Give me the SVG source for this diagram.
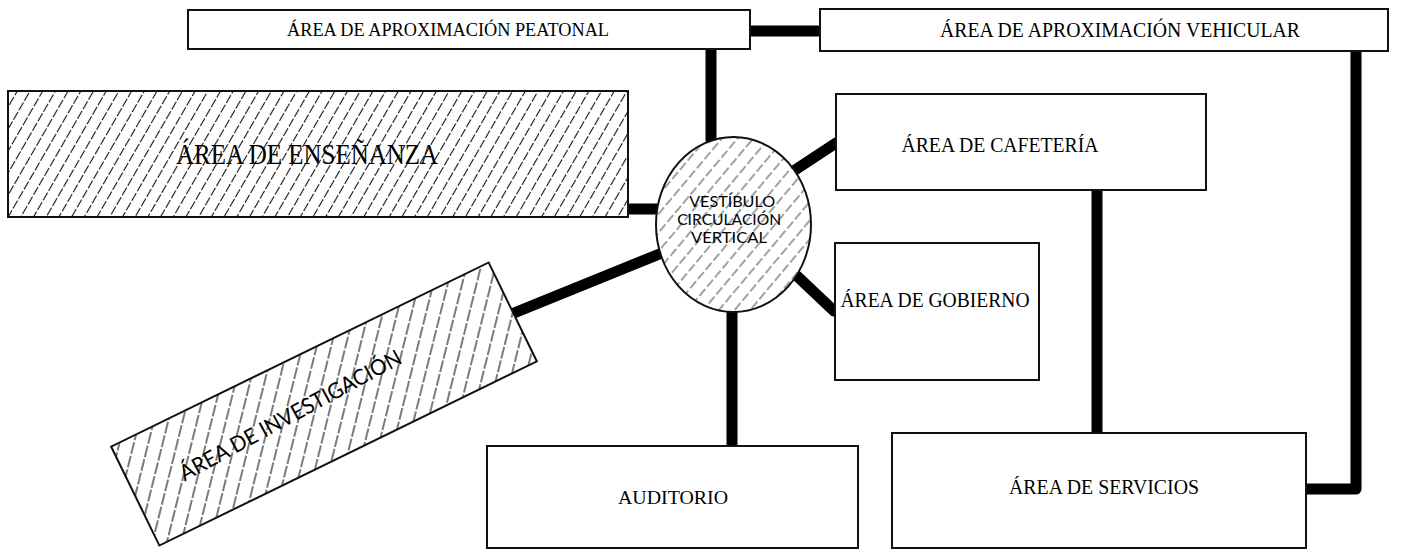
<svg xmlns="http://www.w3.org/2000/svg" width="1409" height="554" viewBox="0 0 1409 554">
<style>
.box{fill:#fff;stroke:#111;stroke-width:2}
.hbox{stroke:#111;stroke-width:2}
.lbl{font-family:"Liberation Serif","Times New Roman",serif;fill:#000;text-anchor:middle}
.sans{font-family:Lato,"Liberation Sans",sans-serif;fill:#000;text-anchor:middle}
.con{stroke:#000;stroke-width:11;stroke-linecap:round;stroke-linejoin:round;fill:none}
</style>
<defs>
<pattern id="hatchA" width="11" height="11" patternUnits="userSpaceOnUse" patternTransform="rotate(30)">
<rect width="11" height="11" fill="#fff"/>
<line x1="5.5" y1="0" x2="5.5" y2="11" stroke="#111" stroke-width="1.1" stroke-dasharray="9 2"/>
</pattern>
<pattern id="hatchB" width="12" height="12" patternUnits="userSpaceOnUse" patternTransform="rotate(40)">
<rect width="12" height="12" fill="#fff"/>
<line x1="6" y1="0" x2="6" y2="12" stroke="#444" stroke-width="1" stroke-dasharray="5 3"/>
</pattern>
<pattern id="hatchC" width="14" height="14" patternUnits="userSpaceOnUse" patternTransform="rotate(40)">
<rect width="14" height="14" fill="#fff"/>
<line x1="7" y1="0" x2="7" y2="14" stroke="#111" stroke-width="1.1" stroke-dasharray="11 2"/>
</pattern>
</defs>

<g id="connectors">
<line class="con" x1="752" y1="31" x2="818" y2="31"/>
<line class="con" x1="711" y1="50" x2="711" y2="140"/>
<line class="con" x1="630" y1="209" x2="658" y2="209"/>
<line class="con" x1="795" y1="170" x2="836" y2="143"/>
<line class="con" x1="797" y1="276" x2="834" y2="311"/>
<line class="con" x1="662" y1="253" x2="514" y2="313"/>
<line class="con" x1="732" y1="312" x2="732" y2="446"/>
<line class="con" x1="1097" y1="190" x2="1097" y2="433"/>
<path class="con" d="M1356,52 V489 H1306"/>
</g>

<g id="peatonal">
<rect class="box" x="188" y="10" width="562" height="39"/>
<text class="lbl" x="448" y="36" font-size="19" textLength="322" lengthAdjust="spacingAndGlyphs">ÁREA DE APROXIMACIÓN PEATONAL</text>
</g>

<g id="vehicular">
<rect class="box" x="820" y="9" width="568" height="42"/>
<text class="lbl" x="1120" y="37" font-size="20" textLength="360" lengthAdjust="spacingAndGlyphs">ÁREA DE APROXIMACIÓN VEHICULAR</text>
</g>

<g id="ensenanza">
<rect class="hbox" x="8" y="91" width="620" height="126" fill="url(#hatchA)"/>
<text class="lbl" x="307" y="164" font-size="30" textLength="262" lengthAdjust="spacingAndGlyphs">ÁREA DE ENSEÑANZA</text>
</g>

<g id="vestibulo">
<ellipse class="hbox" cx="733.5" cy="224.5" rx="77.5" ry="87.5" fill="url(#hatchB)"/>
<text class="sans" font-size="14.5">
<tspan x="734" y="207" textLength="86" lengthAdjust="spacingAndGlyphs">VESTÍBULO</tspan>
<tspan x="731" y="225" textLength="104" lengthAdjust="spacingAndGlyphs">CIRCULACIÓN</tspan>
<tspan x="729" y="243" textLength="76" lengthAdjust="spacingAndGlyphs">VERTICAL</tspan>
</text>
</g>

<g id="cafeteria">
<rect class="box" x="836" y="94" width="370" height="96"/>
<text class="lbl" x="1000" y="152" font-size="21" textLength="197" lengthAdjust="spacingAndGlyphs">ÁREA DE CAFETERÍA</text>
</g>

<g id="gobierno">
<rect class="box" x="835" y="243" width="204" height="137"/>
<text class="lbl" x="935" y="307" font-size="21" textLength="189" lengthAdjust="spacingAndGlyphs">ÁREA DE GOBIERNO</text>
</g>

<g id="investigacion">
<g transform="translate(324,404) rotate(-26)">
<rect class="hbox" x="-210" y="-55" width="420" height="110" fill="url(#hatchC)"/>
</g>
<text class="sans" font-size="22" transform="translate(294,422) rotate(-28.5)" x="0" y="0" textLength="249" lengthAdjust="spacingAndGlyphs">ÁREA DE INVESTIGACIÓN</text>
</g>

<g id="auditorio">
<rect class="box" x="487" y="446" width="371" height="102"/>
<text class="lbl" x="673" y="504" font-size="19" textLength="110" lengthAdjust="spacingAndGlyphs">AUDITORIO</text>
</g>

<g id="servicios">
<rect class="box" x="892" y="433" width="414" height="115"/>
<text class="lbl" x="1104" y="494" font-size="20" textLength="190" lengthAdjust="spacingAndGlyphs">ÁREA DE SERVICIOS</text>
</g>
</svg>
